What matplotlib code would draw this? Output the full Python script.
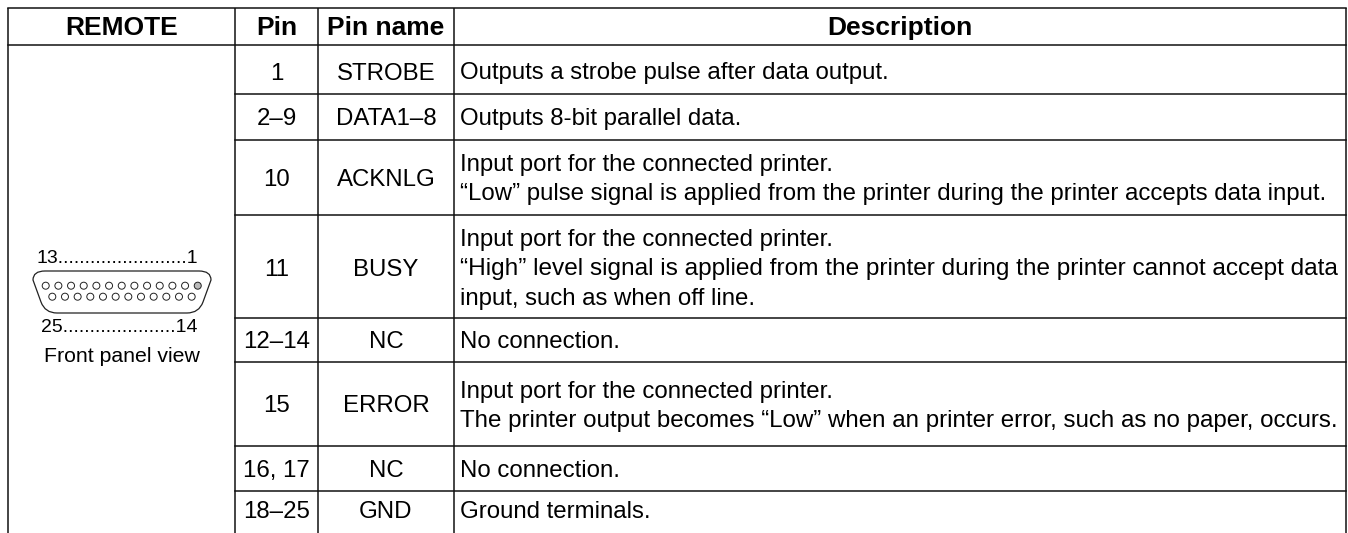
import matplotlib
matplotlib.use("Agg")
import matplotlib.pyplot as plt
from matplotlib.patches import Circle, PathPatch
from matplotlib.path import Path

W, H = 1348, 533
plt.rcParams['font.family'] = ['Liberation Sans', 'DejaVu Sans']

headers = ["REMOTE", "Pin", "Pin name", "Description"]
pins = ["1", "2–9", "10", "11", "12–14", "15", "16, 17", "18–25"]
names = ["STROBE", "DATA1–8", "ACKNLG", "BUSY", "NC", "ERROR", "NC", "GND"]
descriptions = [
    ["Outputs a strobe pulse after data output."],
    ["Outputs 8-bit parallel data."],
    ["Input port for the connected printer.",
     "“Low” pulse signal is applied from the printer during the printer accepts data input."],
    ["Input port for the connected printer.",
     "“High” level signal is applied from the printer during the printer cannot accept data",
     "input, such as when off line."],
    ["No connection."],
    ["Input port for the connected printer.",
     "The printer output becomes “Low” when an printer error, such as no paper, occurs."],
    ["No connection."],
    ["Ground terminals."],
]
# lines set justified in the reference run slightly wider
wide_lines = {"“High” level signal is applied from the printer during the printer cannot accept data": 17.6,
              "The printer output becomes “Low” when an printer error, such as no paper, occurs.": 17.4}
col_x = [8, 235, 318, 454, 1345.5]
row_y = [8, 45, 94, 139.5, 215, 318, 362, 446, 491]
row_text_y = [71, 116.5, 177, 267, 340, 404, 468.5, 510]
table_bottom = 533
INK = "#111111"

fig = plt.figure(figsize=(W / 100, H / 100), dpi=100)
ax = fig.add_axes([0, 0, 1, 1])
ax.set_xlim(0, W)
ax.set_ylim(H, 0)
ax.axis("off")

LW = 1.1
FS = 17.3
for x in col_x:
    ax.plot([x, x], [row_y[0], table_bottom], color=INK, lw=LW, solid_capstyle="butt")
ax.plot([col_x[0], col_x[-1]], [row_y[0], row_y[0]], color=INK, lw=LW)
ax.plot([col_x[0], col_x[-1]], [row_y[1], row_y[1]], color=INK, lw=LW)
for y in row_y[2:]:
    ax.plot([col_x[1], col_x[-1]], [y, y], color=INK, lw=LW)

for i, h in enumerate(headers):
    ax.text((col_x[i] + col_x[i + 1]) / 2, 25.5, h, ha="center", va="center_baseline",
            fontsize=19, fontweight="bold", color="black")

for cy, p, n, d in zip(row_text_y, pins, names, descriptions):
    ax.text((col_x[1] + col_x[2]) / 2, cy, p, ha="center", va="center_baseline", fontsize=FS, color="black")
    ax.text((col_x[2] + col_x[3]) / 2, cy, n, ha="center", va="center_baseline", fontsize=FS, color="black")
    n_lines = len(d)
    for j, line in enumerate(d):
        ax.text(col_x[3] + 6.5, cy + (j - (n_lines - 1) / 2) * 29.5, line, ha="left",
                va="center_baseline", fontsize=wide_lines.get(line, FS), color="black")

# connector
ax.text(36, 256.5, "13" + "." * 24 + "1", ha="left", va="center_baseline", fontsize=14, color="black")
ax.text(41, 325.5, "25" + "." * 21 + "14", ha="left", va="center_baseline", fontsize=14, color="black")
ax.text(121.5, 355, "Front panel view", ha="center", va="center_baseline", fontsize=15.3, color="black")

verts = [(45, 271), (199, 271), (211, 271), (211, 280), (203, 302), (199, 313), (187, 313),
         (57, 313), (45, 313), (41, 302), (33, 280), (33, 271), (45, 271), (45, 271)]
codes = [Path.MOVETO, Path.LINETO, Path.CURVE3, Path.CURVE3, Path.LINETO, Path.CURVE3, Path.CURVE3,
         Path.LINETO, Path.CURVE3, Path.CURVE3, Path.LINETO, Path.CURVE3, Path.CURVE3,
         Path.CLOSEPOLY]
ax.add_patch(PathPatch(Path(verts, codes), fc="white", ec="#222222", lw=0.9))
for i in range(13):
    x = 45.7 + i * 12.67
    ax.add_patch(Circle((x, 285.7), 3.5, fc="#bbbbbb" if i == 12 else "white", ec="#222222", lw=0.7))
for i in range(12):
    x = 52.3 + i * 12.67
    ax.add_patch(Circle((x, 296.7), 3.5, fc="white", ec="#222222", lw=0.7))

fig.savefig("out.png", dpi=100)
